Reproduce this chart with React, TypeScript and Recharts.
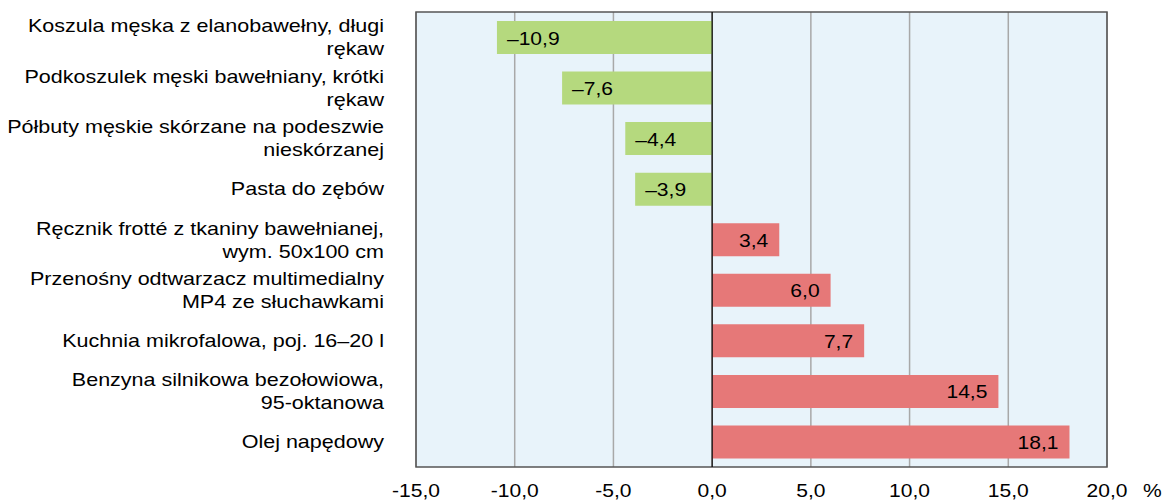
import React from 'react';
import { BarChart, Bar, XAxis, YAxis, CartesianGrid, ReferenceLine, ReferenceArea, Cell, LabelList } from 'recharts';

const categories = [
  'Koszula męska z elanobawełny, długi\nrękaw',
  'Podkoszulek męski bawełniany, krótki\nrękaw',
  'Półbuty męskie skórzane na podeszwie\nnieskórzanej',
  'Pasta do zębów',
  'Ręcznik frotté z tkaniny bawełnianej,\nwym. 50x100 cm',
  'Przenośny odtwarzacz multimedialny\nMP4 ze słuchawkami',
  'Kuchnia mikrofalowa, poj. 16–20 l',
  'Benzyna silnikowa bezołowiowa,\n95-oktanowa',
  'Olej napędowy',
];
const values = [-10.9, -7.6, -4.4, -3.9, 3.4, 6.0, 7.7, 14.5, 18.1];
const xTicks = [-15, -10, -5, 0, 5, 10, 15, 20];
const unitLabel = '%';

const data = categories.map((name, i) => ({ name, value: values[i] }));

const FONT = '"Liberation Sans", Arial, sans-serif';
const FS = 18;
const SX = 1.17;
const GREEN = '#B5D97E';
const RED = '#E67878';

const fmt = (v: number) => (v < 0 ? '–' : '') + Math.abs(v).toFixed(1).replace('.', ',');

const YTick = (props: any) => {
  const { x, y, payload } = props;
  const lines = String(payload.value).split('\n');
  const offsets = lines.length === 1 ? [6] : [-5, 18];
  return (
    <g>
      {lines.map((ln, i) => (
        <text
          key={i}
          transform={`translate(${x},${y + offsets[i]}) scale(${SX},1)`}
          textAnchor="end"
          fontFamily={FONT}
          fontSize={18.4}
          fill="#000"
        >
          {ln}
        </text>
      ))}
    </g>
  );
};

const XTick = (props: any) => {
  const { x, y, payload } = props;
  return (
    <text
      transform={`translate(${x},${y + 30}) scale(${SX},1)`}
      textAnchor="middle"
      fontFamily={FONT}
      fontSize={FS}
      fill="#000"
    >
      {Number(payload.value).toFixed(1).replace('.', ',')}
    </text>
  );
};

const BarLabel = (props: any) => {
  const { x, y, width, height, value } = props;
  const left = Math.min(x, x + width);
  const right = Math.max(x, x + width);
  const cy = y + height / 2 + 7;
  const neg = value < 0;
  const tx = neg ? left + 10 : right - 11;
  return (
    <text
      transform={`translate(${tx},${cy}) scale(${SX},1)`}
      textAnchor={neg ? 'start' : 'end'}
      fontFamily={FONT}
      fontSize={FS}
      fill="#000"
    >
      {fmt(value)}
    </text>
  );
};

const UnitLabel = (props: any) => {
  const vb = props.viewBox || {};
  return (
    <text
      transform={`translate(${vb.x + vb.width + 36},${vb.y + 30}) scale(${SX},1)`}
      textAnchor="start"
      fontFamily={FONT}
      fontSize={FS}
      fill="#000"
    >
      {unitLabel}
    </text>
  );
};

export default function App() {
  return (
    <div style={{ position: 'absolute', left: 0, top: 0, background: '#fff' }}>
      <BarChart
        width={1164}
        height={500}
        data={data}
        layout="vertical"
        margin={{ top: 12, right: 57, left: 0, bottom: 0 }}
        barSize={33}
      >
        <CartesianGrid
          horizontal={false}
          vertical={true}
          fill="#E8F3FA"
          stroke="#A8A8A8"
          strokeWidth={1.5}
        />
        <XAxis
          type="number"
          domain={[-15, 20]}
          ticks={xTicks}
          interval={0}
          axisLine={false}
          tickLine={false}
          tickSize={0}
          tickMargin={0}
          height={33}
          tick={<XTick />}
          label={<UnitLabel />}
        />
        <YAxis
          type="category"
          dataKey="name"
          width={416}
          axisLine={false}
          tickLine={false}
          tickSize={0}
          tickMargin={32}
          interval={0}
          tick={<YTick />}
        />
        <Bar dataKey="value" isAnimationActive={false}>
          {data.map((d, i) => (
            <Cell key={i} fill={d.value < 0 ? GREEN : RED} />
          ))}
          <LabelList dataKey="value" content={<BarLabel />} />
        </Bar>
        <ReferenceLine x={0} stroke="#000" strokeWidth={1.2} />
        <ReferenceArea x1={-15} x2={20} fill="none" fillOpacity={0} stroke="#555" strokeWidth={1.5} />
      </BarChart>
    </div>
  );
}
